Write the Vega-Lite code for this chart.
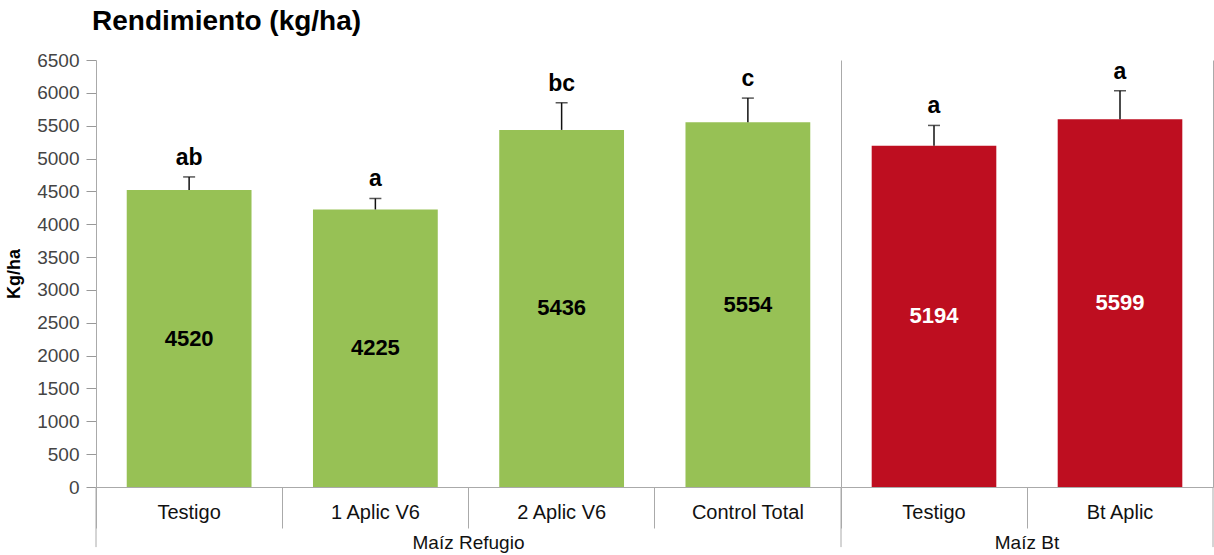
{
  "$schema": "https://vega.github.io/schema/vega-lite/v6.json",
  "padding": {"left": 5, "top": 8, "right": 1, "bottom": 0},
  "title": {"text": "Rendimiento (kg/ha)", "anchor": "start", "frame": "group", "fontSize": 28, "fontWeight": "bold", "font": "Liberation Sans", "color": "#000", "offset": 15, "dx": -4},
  "datasets": {
    "ref": [
      {"cat": "Testigo", "v": 4520, "hi": 4720, "letter": "ab"},
      {"cat": "1 Aplic V6", "v": 4225, "hi": 4392, "letter": "a"},
      {"cat": "2 Aplic V6", "v": 5436, "hi": 5849, "letter": "bc"},
      {"cat": "Control Total", "v": 5554, "hi": 5920, "letter": "c"}
    ],
    "bt": [
      {"cat": "Testigo", "v": 5194, "hi": 5504, "letter": "a"},
      {"cat": "Bt Aplic", "v": 5599, "hi": 6032, "letter": "a"}
    ]
  },
  "spacing": 0,
  "bounds": "flush",
  "hconcat": [
    {
      "width": 745,
      "height": 427,
      "data": {"name": "ref"},
      "title": {"text": "Maíz Refugio", "orient": "bottom", "anchor": "middle", "offset": -14, "fontSize": 19, "fontWeight": "normal", "font": "Liberation Sans", "color": "#111"},
      "resolve": {"axis": {"y": "independent"}},
      "layer": [
        {
          "mark": {"type": "bar", "color": "#97C155", "width": {"band": 0.67}},
          "encoding": {
            "x": {"field": "cat", "type": "nominal", "sort": null, "scale": {"paddingInner": 0, "paddingOuter": 0},
              "axis": {"title": null, "labelAngle": 0, "bandPosition": 0, "tickSize": 41, "tickColor": "#aaa", "domainColor": "#aaa", "labelFontSize": 20, "labelColor": "#111", "labelPadding": -26, "labelFont": "Liberation Sans"}},
            "y": {"field": "v", "type": "quantitative", "scale": {"domain": [0, 6500], "nice": false},
              "axis": {"title": "Kg/ha", "format": "d", "values": [0, 500, 1000, 1500, 2000, 2500, 3000, 3500, 4000, 4500, 5000, 5500, 6000, 6500], "grid": false, "tickSize": 10, "tickColor": "#999", "domainColor": "#aaa", "labelFontSize": 19, "labelColor": "#444", "labelFont": "Liberation Sans", "labelPadding": 7, "titleFontSize": 18, "titleFont": "Liberation Sans", "titleFontWeight": "bold", "titleColor": "#000", "titlePadding": 13}}
          }
        },
        {
          "transform": [{"filter": "datum.cat === 'Testigo'"}],
          "mark": {"type": "rule", "color": "#aaa", "strokeWidth": 1},
          "encoding": {
            "x": {"field": "cat", "type": "nominal", "sort": null, "bandPosition": 0},
            "y": {"datum": 0, "type": "quantitative", "axis": null},
            "y2": {"datum": -915}
          }
        },
        {
          "mark": {"type": "rule", "color": "#111", "strokeWidth": 1.5},
          "encoding": {
            "x": {"field": "cat", "type": "nominal", "sort": null},
            "y": {"field": "v", "type": "quantitative", "axis": null},
            "y2": {"field": "hi"}
          }
        },
        {
          "mark": {"type": "tick", "color": "#111", "size": 12, "thickness": 1.5},
          "encoding": {
            "x": {"field": "cat", "type": "nominal", "sort": null},
            "y": {"field": "hi", "type": "quantitative", "axis": null}
          }
        },
        {
          "mark": {"type": "text", "fontSize": 23, "fontWeight": "bold", "font": "Liberation Sans", "color": "#000", "baseline": "alphabetic", "dy": -12},
          "encoding": {
            "x": {"field": "cat", "type": "nominal", "sort": null},
            "y": {"field": "hi", "type": "quantitative", "axis": null},
            "text": {"field": "letter"}
          }
        },
        {
          "transform": [{"calculate": "datum.v / 2", "as": "mid"}],
          "mark": {"type": "text", "fontSize": 22, "fontWeight": "bold", "font": "Liberation Sans", "color": "#000", "baseline": "middle"},
          "encoding": {
            "x": {"field": "cat", "type": "nominal", "sort": null},
            "y": {"field": "mid", "type": "quantitative", "axis": null},
            "text": {"field": "v"}
          }
        }
      ]
    },
    {
      "width": 372,
      "height": 427,
      "data": {"name": "bt"},
      "title": {"text": "Maíz Bt", "orient": "bottom", "anchor": "middle", "offset": -14, "fontSize": 19, "fontWeight": "normal", "font": "Liberation Sans", "color": "#111"},
      "resolve": {"axis": {"y": "independent"}},
      "layer": [
        {
          "mark": {"type": "bar", "color": "#BE0E20", "width": {"band": 0.67}},
          "encoding": {
            "x": {"field": "cat", "type": "nominal", "sort": null, "scale": {"paddingInner": 0, "paddingOuter": 0},
              "axis": {"title": null, "labelAngle": 0, "bandPosition": 0, "tickSize": 41, "tickColor": "#aaa", "domainColor": "#aaa", "labelFontSize": 20, "labelColor": "#111", "labelPadding": -26, "labelFont": "Liberation Sans"}},
            "y": {"field": "v", "type": "quantitative", "scale": {"domain": [0, 6500], "nice": false},
              "axis": {"orient": "left", "title": null, "labels": false, "ticks": false, "grid": false, "domainColor": "#aaa"}}
          }
        },
        {
          "transform": [{"filter": "datum.cat === 'Testigo'"}],
          "mark": {"type": "rule", "color": "#aaa", "strokeWidth": 1},
          "encoding": {
            "x": {"field": "cat", "type": "nominal", "sort": null, "bandPosition": 0},
            "y": {"datum": 0, "type": "quantitative", "axis": null},
            "y2": {"datum": -915}
          }
        },
        {
          "transform": [{"filter": "datum.cat === 'Bt Aplic'"}],
          "mark": {"type": "rule", "color": "#aaa", "strokeWidth": 1},
          "encoding": {
            "x": {"field": "cat", "type": "nominal", "sort": null, "bandPosition": 1},
            "y": {"datum": 0, "type": "quantitative", "axis": null},
            "y2": {"datum": -915}
          }
        },
        {
          "mark": {"type": "rule", "color": "#111", "strokeWidth": 1.5},
          "encoding": {
            "x": {"field": "cat", "type": "nominal", "sort": null},
            "y": {"field": "v", "type": "quantitative",
              "axis": {"orient": "right", "title": null, "labels": false, "ticks": false, "grid": false, "domainColor": "#aaa"}},
            "y2": {"field": "hi"}
          }
        },
        {
          "mark": {"type": "tick", "color": "#111", "size": 12, "thickness": 1.5},
          "encoding": {
            "x": {"field": "cat", "type": "nominal", "sort": null},
            "y": {"field": "hi", "type": "quantitative", "axis": null}
          }
        },
        {
          "mark": {"type": "text", "fontSize": 23, "fontWeight": "bold", "font": "Liberation Sans", "color": "#000", "baseline": "alphabetic", "dy": -12},
          "encoding": {
            "x": {"field": "cat", "type": "nominal", "sort": null},
            "y": {"field": "hi", "type": "quantitative", "axis": null},
            "text": {"field": "letter"}
          }
        },
        {
          "transform": [{"calculate": "datum.v / 2", "as": "mid"}],
          "mark": {"type": "text", "fontSize": 22, "fontWeight": "bold", "font": "Liberation Sans", "color": "#fff", "baseline": "middle"},
          "encoding": {
            "x": {"field": "cat", "type": "nominal", "sort": null},
            "y": {"field": "mid", "type": "quantitative", "axis": null},
            "text": {"field": "v"}
          }
        }
      ]
    }
  ],
  "config": {"view": {"stroke": null}, "font": "Liberation Sans"}
}
